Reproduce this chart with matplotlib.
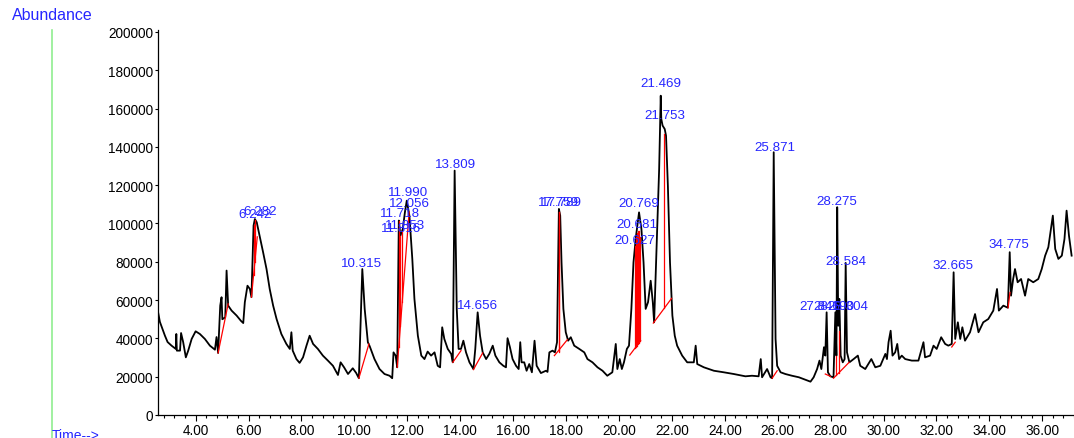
import matplotlib.pyplot as plt
from matplotlib.lines import Line2D

# retention time (min) and abundance
rt = [2.57, 2.65, 2.72, 2.84, 2.94, 3.09, 3.25, 3.27, 3.29, 3.41, 3.45, 3.53, 3.63, 3.72, 3.85,
      4.00, 4.16, 4.35, 4.54, 4.73, 4.79, 4.85, 4.93, 4.98, 5.01, 5.12, 5.17, 5.23, 5.36, 5.55,
      5.71, 5.80, 5.86, 5.96, 6.05, 6.11, 6.19, 6.24, 6.31, 6.43, 6.55, 6.68, 6.80, 6.93, 7.06,
      7.24, 7.43, 7.56, 7.62, 7.67, 7.81, 7.93, 8.06, 8.19, 8.31, 8.44, 8.62, 8.81, 9.00, 9.19,
      9.38, 9.48, 9.61, 9.76, 9.94, 10.07, 10.17, 10.30, 10.39, 10.51, 10.58, 10.76, 10.95, 11.14,
      11.33, 11.43, 11.48, 11.56, 11.62, 11.68, 11.74, 11.83, 11.91, 11.98, 12.08, 12.19, 12.27,
      12.40, 12.53, 12.65, 12.77, 12.90, 13.03, 13.15, 13.24, 13.32, 13.40, 13.53, 13.66, 13.72,
      13.79, 13.87, 13.94, 14.03, 14.12, 14.22, 14.35, 14.50, 14.57, 14.66, 14.75, 14.85, 14.98,
      15.10, 15.23, 15.33, 15.48, 15.63, 15.73, 15.79, 15.88, 15.98, 16.11, 16.21, 16.27, 16.32,
      16.42, 16.51, 16.61, 16.71, 16.81, 16.89, 17.05, 17.24, 17.30, 17.37, 17.49, 17.58, 17.66,
      17.73, 17.78, 17.83, 17.90, 17.99, 18.08, 18.18, 18.31, 18.50, 18.69, 18.81, 19.00, 19.19,
      19.38, 19.56, 19.75, 19.88, 19.94, 20.03, 20.11, 20.19, 20.30, 20.38, 20.47, 20.55, 20.64,
      20.76, 20.85, 20.93, 21.01, 21.10, 21.20, 21.28, 21.33, 21.52, 21.58, 21.60, 21.65, 21.73,
      21.78, 21.85, 21.93, 22.02, 22.11, 22.20, 22.39, 22.58, 22.83, 22.90, 22.96, 23.21, 23.59,
      23.96, 24.34, 24.66, 24.78, 25.03, 25.28, 25.36, 25.41, 25.60, 25.73, 25.79, 25.85, 25.92,
      25.98, 26.11, 26.29, 26.54, 26.80, 27.05, 27.24, 27.36, 27.49, 27.58, 27.65, 27.75, 27.80,
      27.85, 27.90, 27.99, 28.11, 28.18, 28.22, 28.25, 28.29, 28.33, 28.38, 28.46, 28.53, 28.57,
      28.62, 28.71, 28.87, 29.03, 29.12, 29.31, 29.54, 29.69, 29.88, 30.07, 30.13, 30.19, 30.27,
      30.34, 30.44, 30.52, 30.59, 30.69, 30.82, 31.07, 31.32, 31.51, 31.57, 31.76, 31.89, 32.01,
      32.18, 32.33, 32.45, 32.58, 32.65, 32.71, 32.81, 32.90, 32.98, 33.08, 33.27, 33.46, 33.59,
      33.77, 33.96, 34.15, 34.29, 34.36, 34.53, 34.70, 34.77, 34.82, 34.90, 34.97, 35.07, 35.20,
      35.35, 35.47, 35.66, 35.85, 35.98, 36.11, 36.23, 36.40, 36.49, 36.61, 36.74, 36.84, 36.92,
      37.01, 37.11]
abund_k = [54.5, 48.6, 46.0, 41.4, 38.1, 36.2, 34.5, 42.3, 33.6, 33.6, 42.8, 38.0, 30.1, 33.6, 39.7,
           43.7, 42.3, 39.7, 36.2, 34.1, 40.7, 32.4, 57.1, 61.5, 50.0, 51.0, 75.4, 57.1, 54.5, 51.9,
           49.2, 48.0, 58.9, 67.5, 65.8, 61.5, 98.9, 102.3, 100.6, 92.8, 85.0, 76.2, 65.8, 57.1, 50.1,
           42.3, 37.1, 34.5, 43.2, 33.6, 29.2, 27.2, 30.1, 36.2, 41.4, 37.1, 34.5, 31.0, 28.4, 25.7,
           20.9, 27.5, 24.9, 21.4, 24.4, 21.9, 19.2, 76.2, 55.4, 38.0, 35.9, 29.2, 24.0, 21.4,
           20.5, 19.2, 32.7, 31.0, 24.9, 101.5, 93.6, 97.1, 105.8, 111.9, 104.1, 81.5, 60.6,
           41.4, 31.0, 29.2, 33.1, 31.0, 32.7, 25.7, 24.9, 45.8, 39.7, 34.5, 31.9, 27.5,
           127.6, 55.4, 34.5, 34.5, 38.8, 32.7, 27.5, 24.0, 34.5, 53.6, 41.4, 32.7, 29.2,
           31.9, 36.2, 31.0, 27.5, 25.7, 24.9, 40.1, 35.4, 29.2, 25.7, 24.0, 38.0, 27.5,
           27.5, 23.1, 26.6, 22.3, 38.8, 25.7, 21.9, 23.1, 22.5, 32.7, 33.6, 32.7, 38.0,
           107.6, 104.1, 79.7, 55.4, 43.2, 38.8, 40.6, 36.2, 34.5, 32.7, 29.2, 27.5, 24.9,
           23.1, 20.5, 22.3, 37.1, 24.0, 29.2, 24.0, 27.5, 34.5, 36.2, 55.4, 79.7, 92.8,
           105.8, 97.1, 79.7, 55.4, 58.9, 70.1, 58.9, 48.4, 128.5, 166.7, 154.6, 151.1, 149.3,
           145.8, 119.7, 79.7, 51.9, 41.4, 36.2, 31.0, 27.5, 27.5, 36.2, 26.6, 24.9, 23.1,
           22.3, 21.4, 20.5, 20.2, 20.5, 20.2, 29.2, 19.7, 24.0, 19.7, 19.2, 137.2, 39.7,
           25.7, 22.3, 21.4, 20.5, 19.7, 18.4, 17.4, 19.7, 24.0, 28.4, 24.0, 35.4, 31.0,
           53.6, 22.3, 20.2, 19.7, 53.6, 31.0, 108.5, 46.6, 60.6, 31.0, 27.5, 29.2, 79.4,
           32.7, 27.5, 29.2, 31.0, 25.7, 24.0, 29.2, 24.9, 25.7, 31.9, 29.2, 38.0, 44.0,
           31.0, 32.7, 37.1, 29.2, 31.0, 29.2, 28.4, 28.4, 38.0, 30.1, 31.0, 36.2, 34.5,
           40.6, 37.1, 36.2, 37.1, 74.5, 39.7, 48.4, 39.7, 45.8, 38.8, 43.2, 52.7, 43.2,
           48.4, 50.1, 54.5, 65.8, 54.5, 57.1, 56.0, 85.0, 62.3, 71.0, 76.2, 69.3, 71.0,
           62.3, 71.0, 69.3, 71.0, 76.2, 83.2, 87.6, 104.1, 86.7, 81.5, 83.2, 91.9, 106.7,
           93.6, 83.2]
abundance = [a * 1000 for a in abund_k]

# integration baselines (start rt, start abundance, end rt, end abundance), in k
base_t0 = [4.85, 6.11, 10.17, 11.62, 13.72, 14.50, 17.56, 20.41, 21.30, 25.79, 27.80, 28.11, 32.58, 34.71]
base_v0 = [32.4, 61.5, 19.2, 24.9, 27.5, 23.7, 31.0, 31.3, 48.0, 19.2, 21.4, 19.2, 35.5, 56.0]
base_t1 = [5.23, 6.33, 10.55, 12.07, 14.03, 14.85, 18.05, 20.82, 21.99, 25.98, 27.99, 28.70, 32.71, 34.78]
base_v1 = [58.0, 93.0, 37.1, 106.0, 33.6, 32.4, 39.3, 38.8, 60.9, 23.1, 20.2, 27.5, 38.0, 64.0]

# peak split drop lines (rt, low, high), in k
drop_t = [6.19, 6.24, 11.68, 11.74, 11.81, 17.72, 17.75, 20.60, 20.64, 20.68, 20.72, 20.76, 20.80, 21.71, 28.22, 28.31]
drop_lo = [73.0, 80.0, 35.7, 46.5, 59.0, 33.0, 33.5, 34.8, 35.5, 36.2, 37.0, 37.7, 38.4, 55.7, 20.7, 22.0]
drop_hi = [99.0, 102.0, 101.5, 93.6, 96.0, 106.0, 106.0, 88.0, 93.0, 95.0, 96.0, 96.0, 93.0, 146.7, 31.0, 44.0]

# peak labels and where they sit (rt, abundance in k)
peak_labels = ['6.242', '6.282', '10.315', '11.990', '12.056', '11.718', '11.816', '11.853',
               '13.809', '14.656', '17.759', '17.789', '20.769', '20.681', '20.627', '21.469',
               '21.753', '25.871', '28.275', '28.584', '27.846', '28.190', '28.304', '32.665', '34.775']
label_t = [6.24, 6.43, 10.27, 12.01, 12.08, 11.71, 11.78, 11.90, 13.82, 14.65, 17.71, 17.82,
           20.76, 20.69, 20.61, 21.59, 21.74, 25.89, 28.23, 28.57, 27.59, 28.12, 28.64, 32.64, 34.75]
label_v = [105.0, 106.5, 79.4, 116.4, 110.7, 105.5, 97.7, 99.2, 131.1, 57.4, 111.2, 111.2,
           110.7, 99.7, 91.4, 173.4, 156.7, 139.9, 111.7, 80.4, 56.9, 56.9, 56.9, 78.3, 89.3]

y_ticks = [0, 20000, 40000, 60000, 80000, 100000, 120000, 140000, 160000, 180000, 200000]
x_ticks = [4, 6, 8, 10, 12, 14, 16, 18, 20, 22, 24, 26, 28, 30, 32, 34, 36]

plt.rcParams['font.family'] = ['Liberation Sans', 'DejaVu Sans']
blue = '#2626ff'

fig = plt.figure(figsize=(10.74, 4.39), dpi=100)
ax = fig.add_axes([158 / 1074, 23 / 439, 916 / 1074, 385 / 439])

ax.plot(rt, abundance, color='black', lw=1.3, zorder=2)

for i in range(len(base_t0)):
    ax.plot([base_t0[i], base_t1[i]], [base_v0[i] * 1000, base_v1[i] * 1000], color='red', lw=0.9, zorder=3)
for i in range(len(drop_t)):
    ax.plot([drop_t[i], drop_t[i]], [drop_lo[i] * 1000, drop_hi[i] * 1000], color='red', lw=0.9, zorder=3)

for i in range(len(peak_labels)):
    ax.text(label_t[i], label_v[i] * 1000, peak_labels[i], color=blue, fontsize=9.6,
            ha='center', va='center', zorder=4)

ax.set_xlim(2.578, 37.13)
ax.set_ylim(0, 201000)

ax.set_yticks(y_ticks)
ax.set_yticklabels([str(v) for v in y_ticks])
ax.set_xticks(x_ticks)
ax.set_xticklabels(['{:.2f}'.format(v) for v in x_ticks])
ax.set_xticks([4 + 0.4 * k - 1.2 for k in range(0, 87)], minor=True)
ax.tick_params(axis='x', which='major', length=4, width=0.8, pad=1.5, labelsize=9.8)
ax.tick_params(axis='x', which='minor', length=2.5, width=0.8)
ax.tick_params(axis='y', which='major', length=2.5, width=0.8, pad=1, labelsize=9.8)

for s in ['top', 'right']:
    ax.spines[s].set_visible(False)
ax.spines['left'].set_linewidth(0.9)
ax.spines['bottom'].set_linewidth(0.9)

# green divider line and the two axis captions
fig.add_artist(Line2D([52 / 1074, 52 / 1074], [0, 1 - 31 / 439], color='#90ee90', lw=1.2))
fig.text(12 / 1074, 1 - 16 / 439, 'Abundance', color=blue, fontsize=11.5, va='center', ha='left')
fig.text(52 / 1074, 1 - 429 / 439, 'Time-->', color=blue, fontsize=10, va='top', ha='left')

fig.savefig('out.png', dpi=100)
